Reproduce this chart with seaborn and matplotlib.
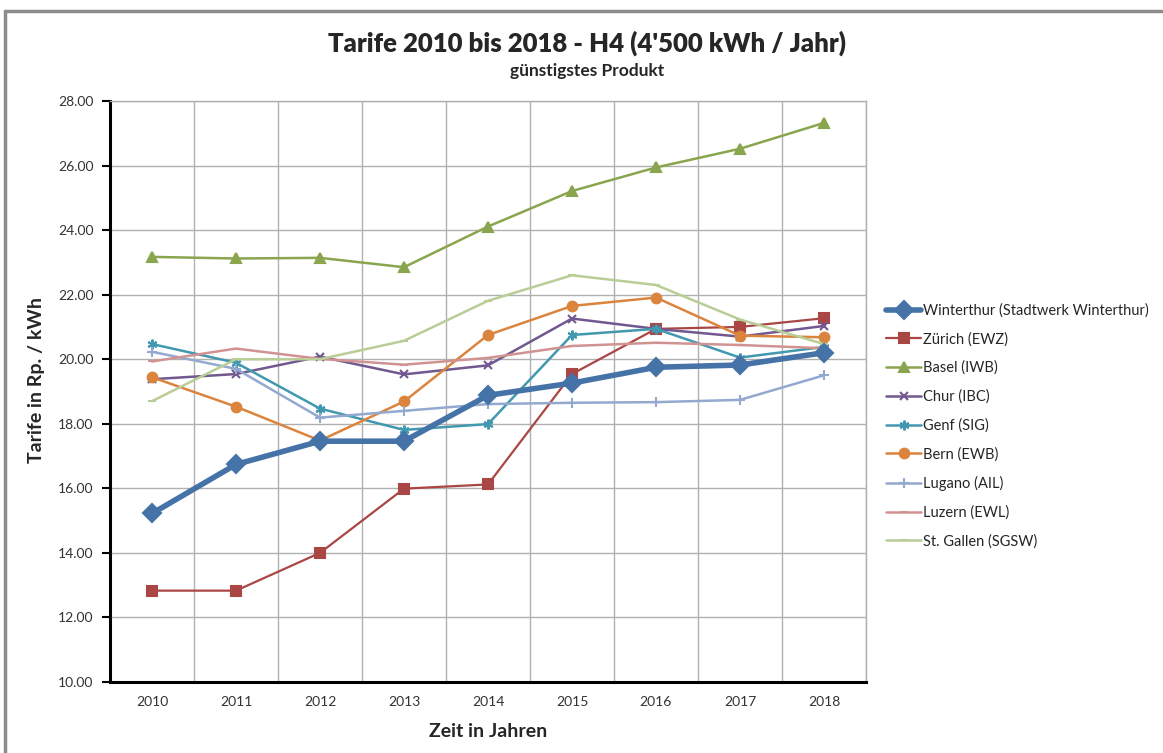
import numpy as np
import pandas as pd
import seaborn as sns
import matplotlib.pyplot as plt
from matplotlib.lines import Line2D
from matplotlib.ticker import FormatStrFormatter, MultipleLocator

sns.set_theme(style='white')
plt.rcParams['font.family'] = ['Lato', 'DejaVu Sans']

years = [2010, 2011, 2012, 2013, 2014, 2015, 2016, 2017, 2018]

winterthur = [15.22, 16.74, 17.46, 17.46, 18.88, 19.26, 19.75, 19.82, 20.20]
zuerich = [12.83, 12.83, 14.00, 15.99, 16.12, 19.54, 20.94, 21.00, 21.27]
basel = [23.17, 23.12, 23.14, 22.85, 24.11, 25.21, 25.94, 26.52, 27.32]
chur = [19.38, 19.54, 20.08, 19.53, 19.81, 21.26, 20.94, 20.70, 21.03]
genf = [20.47, 19.89, 18.47, 17.81, 17.99, 20.75, 20.94, 20.05, 20.38]
bern = [19.44, 18.53, 17.48, 18.69, 20.75, 21.65, 21.91, 20.73, 20.68]
lugano = [20.23, 19.70, 18.19, 18.40, 18.61, 18.65, 18.67, 18.74, 19.50]
luzern = [19.93, 20.33, 20.01, 19.83, 20.04, 20.41, 20.51, 20.44, 20.34]
stgallen = [18.70, 20.00, 20.00, 20.57, 21.81, 22.60, 22.30, 21.23, 20.47]

names = ['Winterthur (Stadtwerk Winterthur)', 'Zürich (EWZ)', 'Basel (IWB)',
         'Chur (IBC)', 'Genf (SIG)', 'Bern (EWB)', 'Lugano (AIL)',
         'Luzern (EWL)', 'St. Gallen (SGSW)']
values = [winterthur, zuerich, basel, chur, genf, bern, lugano, luzern, stgallen]

colors = ['#4572A7', '#AA4643', '#89A54E', '#71588F', '#4198AF',
          '#DB843D', '#93A9CF', '#D19392', '#B9CD96']
markers = ['D', 's', '^', 'x', (6, 2, 0), 'o', '+', '_', '_']
msizes = [9, 7, 7, 6, 7, 7, 7, 6, 6]
lwidths = [4, 1.6, 1.8, 1.8, 1.8, 1.8, 1.8, 1.8, 1.8]

df = pd.DataFrame({
    'Jahr': years * len(names),
    'Tarif': np.concatenate(values),
    'Werk': np.repeat(names, len(years)),
})

fig = plt.figure(figsize=(11.63, 7.53), dpi=100)
ax = fig.add_axes([0.0946, 0.0943, 0.650, 0.7716])

for i, name in enumerate(names):
    sub = df[df['Werk'] == name]
    sns.lineplot(data=sub, x='Jahr', y='Tarif', ax=ax, color=colors[i],
                 linewidth=lwidths[i], marker=markers[i], markersize=msizes[i],
                 markeredgecolor=colors[i], markeredgewidth=1.5,
                 label=name, zorder=3 + (1 if i == 0 else 0))

ax.set_xlim(2009.5, 2018.5)
ax.set_ylim(10, 28)
ax.set_xticks(years)
ax.set_xticklabels([str(y) for y in years])
ax.xaxis.set_minor_locator(MultipleLocator(1, offset=0.5))
ax.yaxis.set_major_locator(MultipleLocator(2))
ax.yaxis.set_major_formatter(FormatStrFormatter('%.2f'))
ax.grid(False)
ax.grid(True, axis='y', which='major', color='#b0b0b0', linewidth=1)
ax.grid(True, axis='x', which='minor', color='#b0b0b0', linewidth=1)
ax.tick_params(axis='x', which='both', length=0, pad=10, labelsize=10)
ax.tick_params(axis='y', which='major', length=6, width=1.5, direction='out',
               left=True, color='black', pad=6, labelsize=10)
for lab in ax.get_xticklabels() + ax.get_yticklabels():
    lab.set_color('#333333')

for side in ['left', 'bottom']:
    ax.spines[side].set_color('black')
    ax.spines[side].set_linewidth(2.2)
for side in ['top', 'right']:
    ax.spines[side].set_color('#b0b0b0')
    ax.spines[side].set_linewidth(1)

ax.set_xlabel('Zeit in Jahren', fontsize=14, fontweight='bold')
ax.set_ylabel('Tarife in Rp. / kWh', fontsize=14, fontweight='bold')
ax.xaxis.set_label_coords(0.5, -0.07)
ax.yaxis.set_label_coords(-0.086, 0.52)

handles, labels = ax.get_legend_handles_labels()
ax.legend_.remove()
fig.legend(handles, labels, loc='upper left', bbox_to_anchor=(0.757, 0.605),
           frameon=False, fontsize=10.5, handlelength=2.4, handletextpad=0.15,
           labelspacing=0.99, borderaxespad=0)

fig.text(0.505, 0.943, "Tarife 2010 bis 2018 - H4 (4'500 kWh / Jahr)",
         ha='center', va='center', fontsize=18.5, fontweight='heavy')
fig.text(0.505, 0.906, 'günstigstes Produkt', ha='center', va='center',
         fontsize=12.5, fontweight='bold')

# outer chart frame (top and left edges visible in the original)
fig.add_artist(Line2D([0.0045, 1.0], [0.9855, 0.9855], transform=fig.transFigure,
                      color='#8c8c8c', linewidth=2.5))
fig.add_artist(Line2D([0.0045, 0.0045], [0.0, 0.9855], transform=fig.transFigure,
                      color='#8c8c8c', linewidth=2.5))

fig.savefig('out.png', dpi=100)
